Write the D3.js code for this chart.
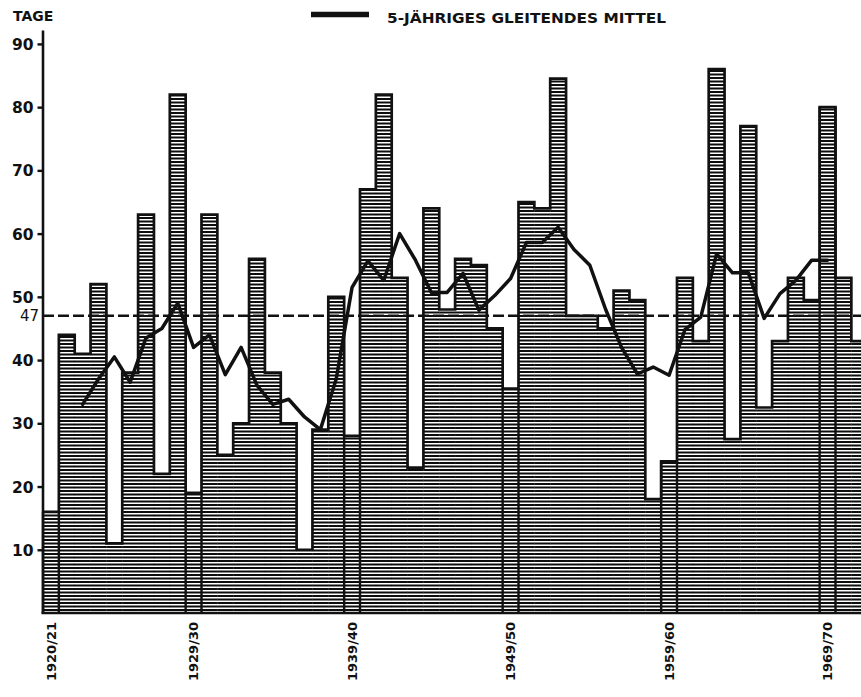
<!DOCTYPE html>
<html>
<head>
<meta charset="utf-8">
<script src="https://cdn.jsdelivr.net/npm/d3@7"></script>
<style>
  html, body { margin: 0; padding: 0; background: #fff; }
  svg { display: block; }
  text { font-family: "DejaVu Sans", sans-serif; fill: #111; }
</style>
</head>
<body>
<svg id="chart" width="861" height="697"></svg>
<script>
// ---- data ----
const seasons = ["1920/21","1921/22","1922/23","1923/24","1924/25","1925/26","1926/27","1927/28","1928/29","1929/30",
  "1930/31","1931/32","1932/33","1933/34","1934/35","1935/36","1936/37","1937/38","1938/39","1939/40",
  "1940/41","1941/42","1942/43","1943/44","1944/45","1945/46","1946/47","1947/48","1948/49","1949/50",
  "1950/51","1951/52","1952/53","1953/54","1954/55","1955/56","1956/57","1957/58","1958/59","1959/60",
  "1960/61","1961/62","1962/63","1963/64","1964/65","1965/66","1966/67","1967/68","1968/69","1969/70",
  "1970/71","1971/72"];
const days = [16,44,41,52,11,38,63,22,82,19,
  63,25,30,56,38,30,10,29,50,28,
  67,82,53,23,64,48,56,55,45,35.5,
  65,64,84.5,47,47,45,51,49.5,18,24,
  53,43,86,27.5,77,32.5,43,53,49.5,80,
  53,43];
const movingAvg = [null,null,33,37,40.5,36.5,43.5,45,49,42,
  44,37.7,42,36,33,33.8,31,29,37,51.5,
  55.7,52.6,60,55.8,50.7,50.7,53.7,47.9,50.2,52.9,
  58.6,58.6,61,57.5,55,48,42,37.8,38.9,37.6,
  44.8,46.8,56.8,53.8,53.8,46.6,50.5,52.6,55.8,55.8,
  null,null];
const meanValue = 47;
const yTicks = [10,20,30,40,50,60,70,80,90];
const xTickLabels = ["1920/21","1929/30","1939/40","1949/50","1959/60","1969/70"];
const yTitle = "TAGE";
const legendLabel = "5-JÄHRIGES GLEITENDES MITTEL";

// ---- layout ----
const svg = d3.select("#chart");
const W = 861, H = 697;
const x = d3.scaleBand().domain(seasons).range([43, 43 + 15.85 * seasons.length]).padding(0);
const y = d3.scaleLinear().domain([0, 92.2]).range([613, 30]);

const defs = svg.append("defs");
defs.append("clipPath").attr("id", "clip")
  .append("rect").attr("x", 0).attr("y", 0).attr("width", W).attr("height", H);
const pat = defs.append("pattern").attr("id", "hatch")
  .attr("patternUnits", "userSpaceOnUse")
  .attr("width", 20).attr("height", 7)
  .attr("y", 0);
pat.append("rect").attr("x", 0).attr("y", 0).attr("width", 20).attr("height", 2).attr("fill", "#0d0d0d");
pat.append("rect").attr("x", 0).attr("y", 3.5).attr("width", 20).attr("height", 2).attr("fill", "#0d0d0d");

const g = svg.append("g").attr("clip-path", "url(#clip)");

// hatched bars
g.selectAll("rect.bar").data(days).join("rect")
  .attr("class", "bar")
  .attr("x", (d, i) => x(seasons[i]))
  .attr("y", d => y(d))
  .attr("width", x.bandwidth() + 0.3)
  .attr("height", d => y(0) - y(d))
  .attr("fill", "url(#hatch)");

// skyline outline
const stepPts = days.map((d, i) => [x(seasons[i]), y(d)]);
stepPts.push([x(seasons[seasons.length - 1]) + x.bandwidth(), y(days[days.length - 1])]);
g.append("path")
  .attr("d", d3.line().curve(d3.curveStepAfter)(stepPts))
  .attr("fill", "none").attr("stroke", "#111").attr("stroke-width", 2.7)
  .attr("stroke-linejoin", "miter");

// full outlines for labelled seasons
xTickLabels.forEach(lbl => {
  const i = seasons.indexOf(lbl);
  const x0 = x(lbl), x1 = x0 + x.bandwidth();
  [x0, x1].forEach(xx => {
    g.append("line").attr("x1", xx).attr("x2", xx)
      .attr("y1", y(0)).attr("y2", y(days[i]))
      .attr("stroke", "#111").attr("stroke-width", 2.4);
  });
});

// mean dashed line
g.append("line")
  .attr("x1", 43).attr("x2", W)
  .attr("y1", y(meanValue)).attr("y2", y(meanValue))
  .attr("stroke", "#111").attr("stroke-width", 2.6)
  .attr("stroke-dasharray", "11,4");

// moving average line
g.append("path")
  .attr("d", d3.line()
    .defined(d => d != null)
    .x((d, i) => x(seasons[i]) + x.bandwidth() / 2)
    .y(d => y(d))(movingAvg))
  .attr("fill", "none").attr("stroke", "#111").attr("stroke-width", 3.5)
  .attr("stroke-linejoin", "round").attr("stroke-linecap", "round");

// baseline
svg.append("line")
  .attr("x1", 41.5).attr("x2", W)
  .attr("y1", y(0)).attr("y2", y(0))
  .attr("stroke", "#111").attr("stroke-width", 2.4);

// y axis
const yAxis = svg.append("g").attr("transform", "translate(42.5,0)")
  .call(d3.axisLeft(y).tickValues(yTicks).tickSize(5).tickSizeOuter(0).tickPadding(4));
yAxis.select(".domain").attr("stroke", "#111").attr("stroke-width", 2.6);
yAxis.selectAll(".tick line").attr("stroke", "#111").attr("stroke-width", 2.4);
yAxis.selectAll(".tick text")
  .attr("font-family", "DejaVu Sans").attr("font-weight", "bold")
  .attr("font-size", 15.5).attr("fill", "#111").attr("dy", "0.36em");

// mean label
svg.append("text")
  .attr("x", 39).attr("y", y(meanValue)).attr("dy", "0.36em")
  .attr("text-anchor", "end").attr("font-size", 15).attr("font-weight", "normal")
  .text(meanValue);

// y title
svg.append("text").attr("x", 13).attr("y", 21)
  .attr("font-size", 14).attr("font-weight", "bold").text(yTitle);

// x labels
svg.selectAll("text.xlab").data(xTickLabels).join("text")
  .attr("class", "xlab")
  .attr("transform", d => `translate(${x(d) + x.bandwidth() / 2},622) rotate(-90)`)
  .attr("dy", "0.36em")
  .attr("text-anchor", "end")
  .attr("font-size", 13).attr("font-weight", "bold")
  .text(d => d);

// legend
svg.append("line").attr("x1", 311).attr("x2", 369).attr("y1", 14.5).attr("y2", 14.5)
  .attr("stroke", "#111").attr("stroke-width", 5.5);
svg.append("text").attr("x", 387).attr("y", 23)
  .attr("font-size", 14.5).attr("font-weight", "bold")
  .attr("textLength", 279).attr("lengthAdjust", "spacingAndGlyphs")
  .text(legendLabel);
</script>
</body>
</html>
